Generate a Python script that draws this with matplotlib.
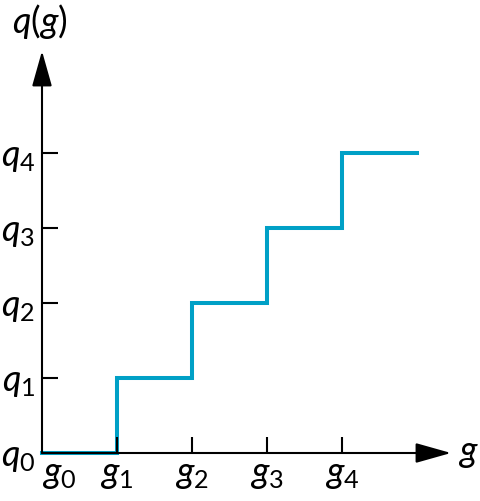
import matplotlib
matplotlib.use('Agg')
import matplotlib.pyplot as plt

# quantizer step: decision levels g_k and output levels q_k
g_levels = [0, 1, 2, 3, 4, 5]
q_values = [0, 1, 2, 3, 4, 4]
g_ticks = [1, 2, 3, 4]
q_ticks = [1, 2, 3, 4]
g_labels = ['$g_0$', '$g_1$', '$g_2$', '$g_3$', '$g_4$']
q_labels = ['$q_0$', '$q_1$', '$q_2$', '$q_3$', '$q_4$']

plt.rcParams['mathtext.fontset'] = 'custom'
plt.rcParams['mathtext.it'] = 'Lato:italic'
plt.rcParams['mathtext.rm'] = 'Lato'
plt.rcParams['font.family'] = ['Lato', 'DejaVu Sans']

W, H = 481, 502
unit = 75.0  # pixels per level
ox, oy = 42, 48  # origin in pixels from left / bottom

fig = plt.figure(figsize=(W / 100, H / 100), dpi=100)
ax = fig.add_axes([0, 0, 1, 1])
ax.set_xlim(-ox / unit, (W - ox) / unit)
ax.set_ylim(-oy / unit, (H - oy) / unit)
ax.axis('off')

blue = '#00a0c6'
ax.step(g_levels, q_values, where='post', color=blue, lw=2.9, zorder=2,
        solid_joinstyle='miter')

# axes with arrow heads
black = 'black'
arrow = dict(arrowstyle='-|>,head_length=22,head_width=6.2', color=black,
             lw=1.5, mutation_scale=1, shrinkA=0, shrinkB=0)
ax.annotate('', xy=(0, (454 - 52) / unit), xytext=(0, 0), arrowprops=arrow, zorder=3)
ax.annotate('', xy=((451 - ox) / unit, 0), xytext=(0, 0), arrowprops=arrow, zorder=3)

tick = 16 / unit
ax.vlines(g_ticks, 0, tick, color=black, lw=1.5, zorder=3)
ax.hlines(q_ticks, 0, tick, color=black, lw=1.5, zorder=3)

fs = 26
for i, lab in enumerate(g_labels):
    ax.text(g_levels[i], -4 / unit, lab, fontsize=fs, ha='left' if i == 0 else 'center',
            va='top')
for i, lab in enumerate(q_labels):
    ax.text(-7 / unit, q_values[i] - 4 / unit, lab, fontsize=fs, ha='right',
            va='center')

ax.text(-2 / unit, (454 - 22) / unit, '$q(g)$', fontsize=fs, ha='center', va='center')
ax.text((468 - ox) / unit, 0, '$g$', fontsize=fs, ha='center', va='center')

fig.savefig('out.png', dpi=100)
